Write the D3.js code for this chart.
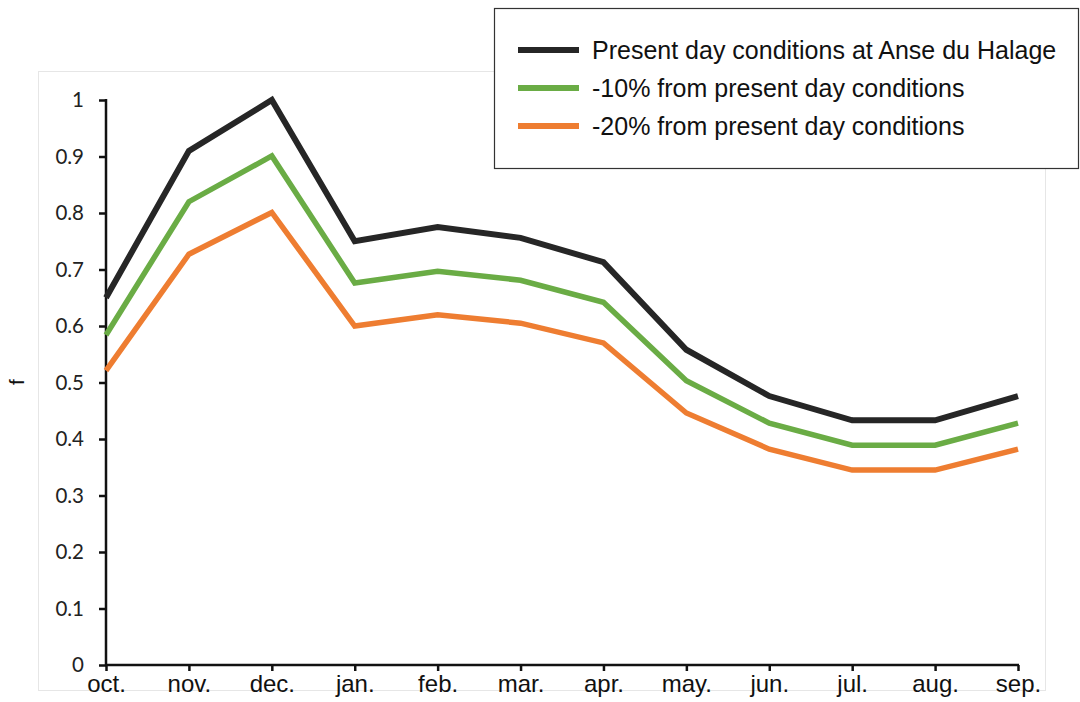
<!DOCTYPE html>
<html>
<head>
<meta charset="utf-8">
<script src="https://cdn.jsdelivr.net/npm/d3@7"></script>
<style>
  html, body { margin: 0; padding: 0; background: #fff; }
  svg { display: block; }
</style>
</head>
<body>
<svg id="chart" width="1080" height="702"></svg>
<script>
// Monthly values of f over a hydrological year (October to September)
const months = ["oct.", "nov.", "dec.", "jan.", "feb.", "mar.", "apr.", "may.", "jun.", "jul.", "aug.", "sep."];
const presentDay = [0.650, 0.910, 1.000, 0.750, 0.775, 0.756, 0.713, 0.558, 0.476, 0.433, 0.433, 0.476];
const minus10 = [0.584, 0.820, 0.901, 0.676, 0.697, 0.681, 0.642, 0.503, 0.428, 0.389, 0.389, 0.428];
const minus20 = [0.521, 0.727, 0.801, 0.600, 0.620, 0.605, 0.570, 0.446, 0.382, 0.345, 0.345, 0.382];
const yTicks = [0, 0.1, 0.2, 0.3, 0.4, 0.5, 0.6, 0.7, 0.8, 0.9, 1];
const seriesNames = [
  "Present day conditions at Anse du Halage",
  "-10% from present day conditions",
  "-20% from present day conditions"
];
const seriesColors = ["#262626", "#6aac45", "#ee7d31"];
const seriesValues = [presentDay, minus10, minus20];

const svg = d3.select("#chart");

// faint chart-area frame
svg.append("rect")
  .attr("x", 38.5).attr("y", 71.5)
  .attr("width", 1007).attr("height", 619)
  .attr("fill", "none").attr("stroke", "#e6e6e6").attr("stroke-width", 1);

const x = d3.scalePoint().domain(months).range([106, 1018]);
const y = d3.scaleLinear().domain([0, 1]).range([665, 100]);

// y axis
const yAxis = svg.append("g")
  .attr("transform", "translate(106,0)")
  .call(d3.axisLeft(y).tickValues(yTicks).tickFormat(d => d === 0 || d === 1 ? d3.format("d")(d) : d3.format(".1f")(d)).tickSize(7).tickPadding(15));
yAxis.select(".domain").attr("stroke", "#111").attr("stroke-width", 2.5).attr("d", `M0,${y(1) - 1}H0V${y(0)}`);
yAxis.selectAll(".tick line").attr("stroke", "#111").attr("stroke-width", 2.5);
yAxis.selectAll(".tick text")
  .attr("fill", "#222")
  .style("font-family", "Lato, 'Open Sans', sans-serif")
  .style("font-size", "20.5px");

// x axis
const xAxis = svg.append("g")
  .attr("transform", "translate(0,665)")
  .call(d3.axisBottom(x).tickSize(6).tickPadding(4));
xAxis.select(".domain").attr("stroke", "#111").attr("stroke-width", 2.5).attr("d", `M${x(months[0]) - 1},0H${x(months[months.length - 1]) + 1}`);
xAxis.selectAll(".tick line").attr("stroke", "#111").attr("stroke-width", 2.5);
xAxis.selectAll(".tick text")
  .attr("fill", "#111")
  .style("font-family", "'Liberation Sans', Arial, sans-serif")
  .style("font-size", "24px");

// y axis title
svg.append("text")
  .attr("transform", "translate(24,382) rotate(-90)")
  .attr("text-anchor", "middle")
  .style("font-family", "'Liberation Sans', Arial, sans-serif")
  .style("font-size", "21px")
  .attr("fill", "#111")
  .text("f");

// series lines
const line = d3.line()
  .x((d, i) => x(months[i]))
  .y(d => y(d));

seriesValues.slice().reverse().forEach((vals, k) => {
  const idx = seriesValues.length - 1 - k;
  svg.append("path")
    .datum(vals)
    .attr("d", line)
    .attr("fill", "none")
    .attr("stroke", seriesColors[idx])
    .attr("stroke-width", idx === 0 ? 6 : 5.5)
    .attr("stroke-linejoin", "miter");
});

// legend
const legend = svg.append("g");
legend.append("rect")
  .attr("x", 494.5).attr("y", 8.5)
  .attr("width", 584).attr("height", 160)
  .attr("fill", "#fff").attr("stroke", "#333").attr("stroke-width", 1.2);

seriesNames.forEach((name, i) => {
  const ly = 50 + i * 38;
  legend.append("line")
    .attr("x1", 518).attr("x2", 579)
    .attr("y1", ly).attr("y2", ly)
    .attr("stroke", seriesColors[i])
    .attr("stroke-width", 6);
  legend.append("text")
    .attr("x", 592).attr("y", ly)
    .attr("dy", "0.36em")
    .style("font-family", "'Liberation Sans', Arial, sans-serif")
    .style("font-size", "25px")
    .attr("fill", "#111")
    .text(name);
});
</script>
</body>
</html>
